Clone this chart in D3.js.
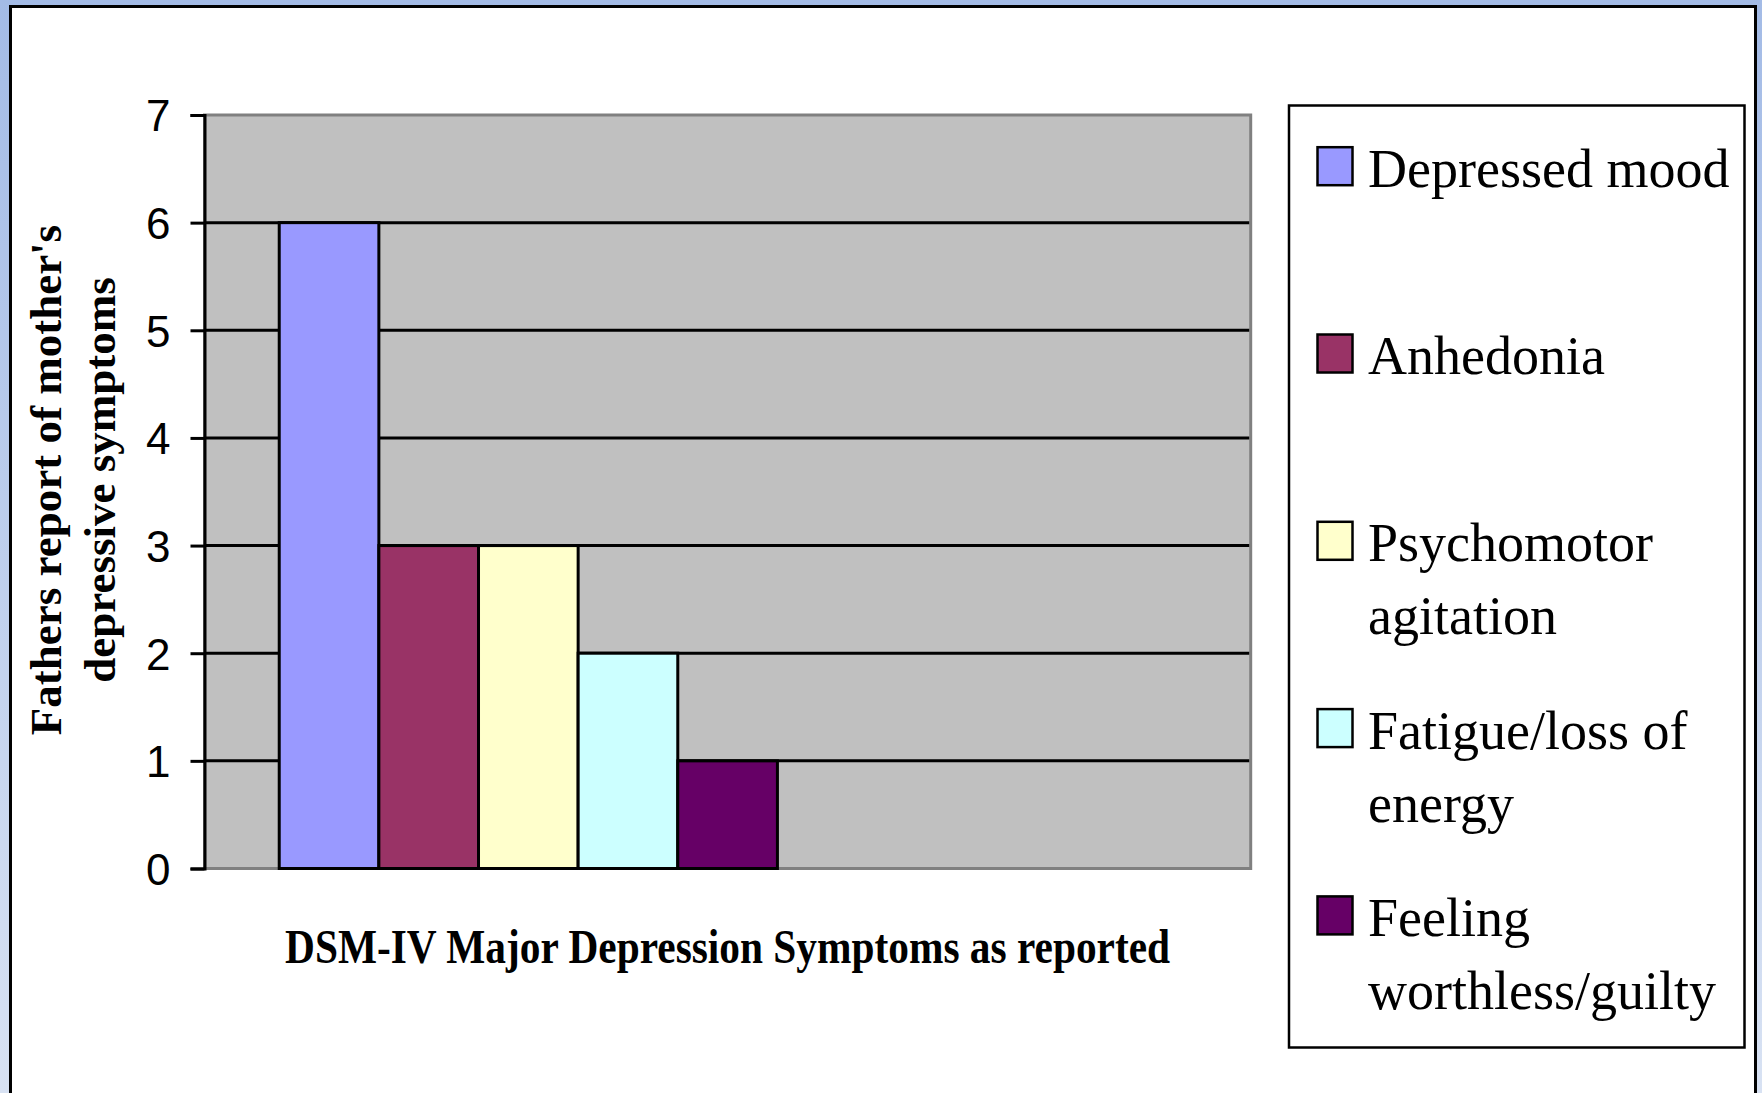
<!DOCTYPE html>
<html>
<head>
<meta charset="utf-8">
<script src="https://cdn.jsdelivr.net/npm/d3@7"></script>
<style>
  body { margin: 0; background: #fff; }
  svg { display: block; }
</style>
</head>
<body>
<svg></svg>
<script>
let width = 1762, height = 1093;

// chart data
const symptoms = ["Depressed mood", "Anhedonia", "Psychomotor agitation", "Fatigue/loss of energy", "Feeling worthless/guilty"];
const counts = [6, 3, 3, 2, 1];
const barColors = ["#9999FF", "#993366", "#FFFFCC", "#CCFFFF", "#660066"];
const legendLines = [["Depressed mood"], ["Anhedonia"], ["Psychomotor", "agitation"], ["Fatigue/loss of", "energy"], ["Feeling", "worthless/guilty"]];
const yTicks = [0, 1, 2, 3, 4, 5, 6, 7];
const yTitle = ["Fathers report of mother's", "depressive symptoms"];
const xTitle = "DSM-IV Major Depression Symptoms as reported";

let svg = d3.select("svg")
    .attr("width", width)
    .attr("height", height);

// blue frame behind the white slide panel
let defs = svg.append("defs");
let grad = defs.append("linearGradient")
    .attr("id", "frame")
    .attr("x1", 0).attr("y1", 0).attr("x2", 0).attr("y2", 1);
grad.append("stop").attr("offset", "0%").attr("stop-color", "#A3BBE6");
grad.append("stop").attr("offset", "100%").attr("stop-color", "#D8E2F3");

svg.append("rect")
    .attr("width", width).attr("height", height)
    .attr("fill", "url(#frame)");

svg.append("rect")
    .attr("x", 10.5).attr("y", 6.5)
    .attr("width", 1745).attr("height", height + 20)
    .attr("fill", "#fff")
    .attr("stroke", "#000")
    .attr("stroke-width", 3);

// plot area
let plot = { left: 204.5, right: 1250.7, top: 115, bottom: 868.5 };

let y = d3.scaleLinear()
    .domain([0, 7])
    .range([plot.bottom, plot.top]);

// Excel keeps 9 series slots + 150% gap width in the single category
let slotW = (plot.right - plot.left) / 10.5;
let x = d3.scaleBand()
    .domain(symptoms)
    .range([plot.left + 0.75 * slotW, plot.left + 5.75 * slotW])
    .padding(0);

svg.append("rect")
    .attr("x", plot.left).attr("y", plot.top)
    .attr("width", plot.right - plot.left)
    .attr("height", plot.bottom - plot.top)
    .attr("fill", "#C0C0C0")
    .attr("stroke", "#808080")
    .attr("stroke-width", 3);

// gridlines
svg.append("g")
    .selectAll("line")
    .data(yTicks.filter(d => d > 0 && d < 7))
    .enter()
    .append("line")
    .attr("x1", plot.left).attr("x2", plot.right - 1.5)
    .attr("y1", d => y(d)).attr("y2", d => y(d))
    .attr("stroke", "#000")
    .attr("stroke-width", 3);

// bars
svg.append("g")
    .selectAll("rect")
    .data(symptoms)
    .enter()
    .append("rect")
    .attr("x", d => x(d))
    .attr("y", (d, i) => y(counts[i]))
    .attr("width", x.bandwidth())
    .attr("height", (d, i) => y(0) - y(counts[i]))
    .attr("fill", (d, i) => barColors[i])
    .attr("stroke", "#000")
    .attr("stroke-width", 3);

// y axis
let yAxis = svg.append("g")
    .attr("transform", "translate(" + plot.left + ",0)")
    .call(d3.axisLeft(y).tickValues(yTicks).tickFormat(d3.format("d")).tickSize(14).tickPadding(20));

yAxis.select(".domain")
    .attr("stroke", "#000")
    .attr("stroke-width", 3);
yAxis.selectAll(".tick line")
    .attr("stroke", "#000")
    .attr("stroke-width", 3);
yAxis.selectAll(".tick text")
    .attr("font-family", "'Liberation Sans', Arial, sans-serif")
    .attr("font-size", 44)
    .attr("fill", "#000")
    .attr("dy", "0.36em");

// axis titles
svg.append("text")
    .attr("transform", "translate(61,480) rotate(-90)")
    .attr("text-anchor", "middle")
    .attr("font-family", "'Liberation Serif', 'Times New Roman', serif")
    .attr("font-weight", "bold")
    .attr("font-size", 45)
    .selectAll("tspan")
    .data(yTitle)
    .enter()
    .append("tspan")
    .attr("x", 0)
    .attr("y", (d, i) => i * 54)
    .text(d => d);

svg.append("text")
    .attr("x", (plot.left + plot.right) / 2)
    .attr("y", 963)
    .attr("text-anchor", "middle")
    .attr("font-family", "'Liberation Serif', 'Times New Roman', serif")
    .attr("font-weight", "bold")
    .attr("font-size", 48)
    .attr("textLength", 885)
    .attr("lengthAdjust", "spacingAndGlyphs")
    .text(xTitle);

// legend
let legendBox = { left: 1289, right: 1744.5, top: 105.5, bottom: 1047.5 };

svg.append("rect")
    .attr("x", legendBox.left).attr("y", legendBox.top)
    .attr("width", legendBox.right - legendBox.left)
    .attr("height", legendBox.bottom - legendBox.top)
    .attr("fill", "#fff")
    .attr("stroke", "#000")
    .attr("stroke-width", 2.5);

let ly = d3.scaleBand()
    .domain(symptoms)
    .range([110, 1046.5]);

let item = svg.append("g")
    .selectAll("g")
    .data(symptoms)
    .enter()
    .append("g")
    .attr("transform", d => "translate(0," + (ly(d) + 76.7) + ")");

item.append("rect")
    .attr("x", 1317.5).attr("y", -39.5)
    .attr("width", 35).attr("height", 38)
    .attr("fill", (d, i) => barColors[i])
    .attr("stroke", "#000")
    .attr("stroke-width", 2.5);

item.append("text")
    .attr("font-family", "'Liberation Serif', 'Times New Roman', serif")
    .attr("font-size", 54)
    .attr("fill", "#000")
    .selectAll("tspan")
    .data((d, i) => legendLines[i])
    .enter()
    .append("tspan")
    .attr("x", 1368)
    .attr("y", (d, i) => i * 73)
    .text(d => d);
</script>
</body>
</html>
